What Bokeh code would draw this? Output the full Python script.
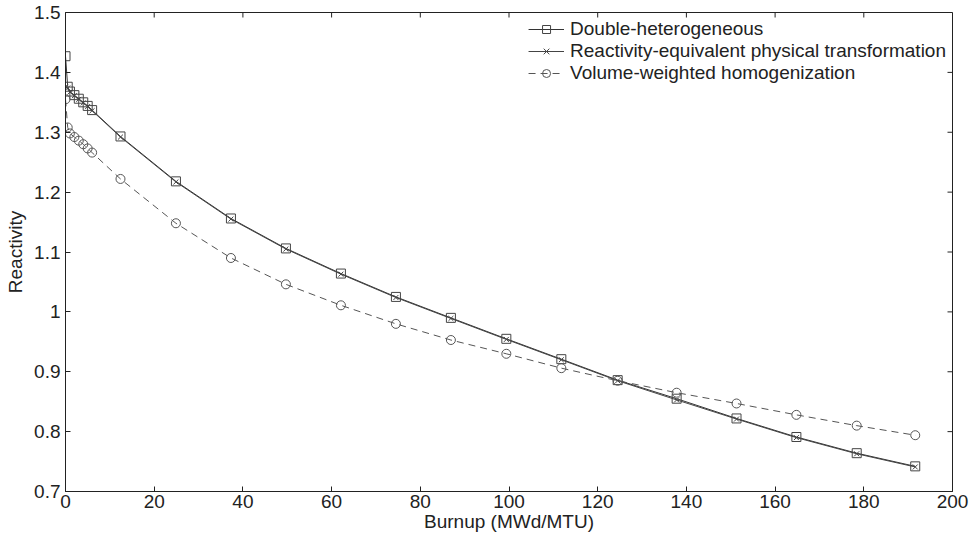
import math
from bokeh.plotting import figure
from bokeh.models import FixedTicker, CustomJSTickFormatter, Legend, LegendItem, Range1d
from bokeh.embed import file_html
from bokeh.resources import INLINE

burnup = [0, 0.5, 1, 2, 3, 4, 5, 6, 12.4, 24.9, 37.3, 49.7, 62.1, 74.5, 86.9,
          99.4, 111.8, 124.5, 137.8, 151.3, 164.8, 178.4, 191.6]
double_het = [1.427, 1.376, 1.368, 1.362, 1.356, 1.350, 1.344, 1.337, 1.293, 1.218,
              1.156, 1.106, 1.064, 1.025, 0.990, 0.955, 0.921, 0.886, 0.855,
              0.822, 0.791, 0.764, 0.742]
rept = [1.376, 1.374, 1.367, 1.361, 1.355, 1.349, 1.343, 1.336, 1.292, 1.217,
        1.155, 1.105, 1.063, 1.024, 0.989, 0.954, 0.920, 0.885, 0.853,
        0.821, 0.790, 0.763, 0.741]
vol_weighted = [1.355, 1.308, 1.298, 1.292, 1.286, 1.280, 1.273, 1.266, 1.222, 1.148,
                1.090, 1.046, 1.011, 0.980, 0.953, 0.930, 0.906, 0.885, 0.865,
                0.847, 0.828, 0.810, 0.794]
x_ticks = [0, 20, 40, 60, 80, 100, 120, 140, 160, 180, 200]
y_ticks = [0.7, 0.8, 0.9, 1.0, 1.1, 1.2, 1.3, 1.4, 1.5]
labels = ["Double-heterogeneous", "Reactivity-equivalent physical transformation",
          "Volume-weighted homogenization"]

FONT = "Liberation Sans"
X0, X1, Y0, Y1 = 0, 200, 0.7, 1.5
INK = "#222222"

p = figure(width=972, height=541, output_backend="svg", toolbar_location=None,
           x_range=Range1d(X0, X1), y_range=Range1d(Y0, Y1),
           min_border_left=65, min_border_right=20, min_border_top=12, min_border_bottom=50)
p.background_fill_color = "white"
p.border_fill_color = "white"
p.grid.visible = False
p.outline_line_color = INK
p.outline_line_width = 1

fmt = CustomJSTickFormatter(code="return parseFloat(tick.toFixed(1)).toString();")

for ax in [p.xaxis[0], p.yaxis[0]]:
    ax.major_tick_in = 5
    ax.major_tick_out = 0
    ax.minor_tick_in = 0
    ax.minor_tick_out = 0
    ax.axis_line_color = INK
    ax.major_tick_line_color = INK
    ax.major_label_text_font = FONT
    ax.major_label_text_font_size = "19px"
    ax.major_label_text_color = INK
    ax.axis_label_text_font = FONT
    ax.axis_label_text_font_size = "19px"
    ax.axis_label_text_font_style = "normal"
    ax.axis_label_text_color = INK
    ax.formatter = fmt
p.xaxis[0].ticker = FixedTicker(ticks=x_ticks)
p.yaxis[0].ticker = FixedTicker(ticks=y_ticks)
p.xaxis[0].axis_label = "Burnup (MWd/MTU)"
p.yaxis[0].axis_label = "Reactivity"
p.xaxis[0].major_label_standoff = 3
p.yaxis[0].major_label_standoff = 5
p.xaxis[0].axis_label_standoff = 0
p.yaxis[0].axis_label_standoff = 5

# inward ticks on the top and right edges of the box
p.ray(x=x_ticks, y=[Y1] * len(x_ticks), length=5, length_units="screen",
      angle=-math.pi / 2, line_color=INK, line_width=1)
p.ray(x=[X1] * len(y_ticks), y=y_ticks, length=5, length_units="screen",
      angle=math.pi, line_color=INK, line_width=1)

l1 = p.line(burnup, double_het, line_color="#333333", line_width=1)
m1 = p.scatter(burnup, double_het, marker="square", size=9, fill_alpha=0,
               line_color="#444444", line_width=1)
l2 = p.line(burnup, rept, line_color="#444444", line_width=1)
m2 = p.scatter(burnup, rept, marker="x", size=7, line_color="#444444", line_width=1)
l3 = p.line(burnup, vol_weighted, line_color="#555555", line_width=1, line_dash="7 5")
m3 = p.scatter(burnup, vol_weighted, marker="circle", size=9, fill_alpha=0,
               line_color="#555555", line_width=1)

legend = Legend(items=[LegendItem(label=labels[0], renderers=[l1, m1]),
                       LegendItem(label=labels[1], renderers=[l2, m2]),
                       LegendItem(label=labels[2], renderers=[l3, m3])],
                location="top_right")
legend.border_line_alpha = 0
legend.background_fill_alpha = 0
legend.label_text_font = FONT
legend.label_text_font_size = "19px"
legend.label_text_color = INK
legend.glyph_width = 36
legend.label_height = 20
legend.glyph_height = 20
legend.spacing = 0
legend.padding = 0
legend.margin = 6
legend.label_standoff = 6
p.add_layout(legend)

open("out.html", "w").write(file_html(p, INLINE))
